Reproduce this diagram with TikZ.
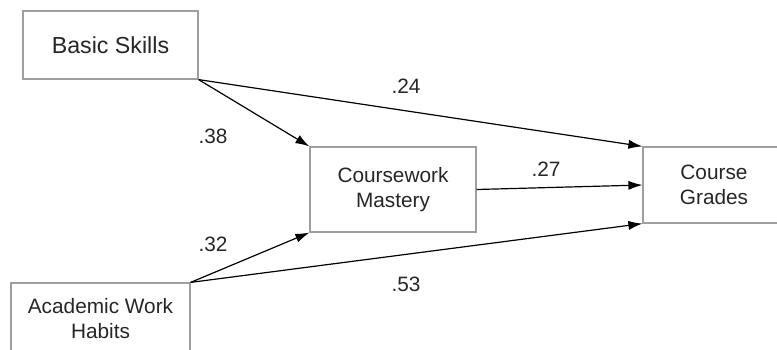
\documentclass[tikz,border=0pt]{standalone}
\usepackage{fontspec}
\setmainfont{Liberation Sans}
\usetikzlibrary{arrows.meta,positioning}
\tikzset{
  var/.style={draw=gray!75, line width=0.6pt, align=center, inner sep=0pt,
    text=black!85, font=\fontsize{10.4}{12.5}\selectfont},
  path/.style={-{Latex[length=7pt,width=4.6pt]}, line width=0.6pt},
  coef/.style={text=black!85, font=\fontsize{10.4}{12.5}\selectfont}
}
\begin{document}
\begin{tikzpicture}[x=0.5pt,y=-0.5pt]
      \useasboundingbox (0,0) rectangle (777,349);
      % Define nodes
      \node[var, minimum width=87.5pt, minimum height=34pt,
            font=\fontsize{11.6}{12.5}\selectfont]          (basic)   at (110.5,45)  {Basic Skills};
      \node[var, minimum width=83pt, minimum height=42.5pt]   (mastery) at (393,189.5) {Coursework\\Mastery};
      \node[var, minimum width=71pt, minimum height=38pt]     (grades)  at (714,185)   {Course\\Grades};
      \node[var, minimum width=89.5pt, minimum height=36pt]   (habits)  at (100.5,319) {Academic Work\\Habits};
      % Path coefficients
      \node[coef] (c24) at (406,86)  {.24};
      \node[coef] (c38) at (213,136) {.38};
      \node[coef] (c27) at (546,169) {.27};
      \node[coef] (c32) at (213,244) {.32};
      \node[coef] (c53) at (406,284) {.53};
      % Connect nodes
      \draw[path] (basic.south east) -- (mastery.north west);
      \draw[path] (basic.south east) -- (grades.north west);
      \draw[path] (mastery.east) -- (grades.west);
      \draw[path] (habits.north east) -- (mastery.south west);
      \draw[path] (habits.north east) -- (grades.south west);
    \end{tikzpicture}
\end{document}
